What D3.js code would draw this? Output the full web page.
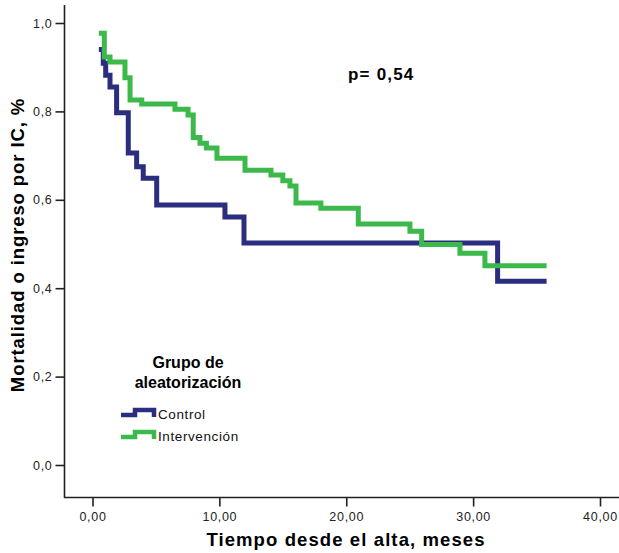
<!DOCTYPE html>
<html>
<head>
<meta charset="utf-8">
<script src="https://cdn.jsdelivr.net/npm/d3@7"></script>
<style>
  body { margin: 0; background: #fff; }
  text { font-family: "Liberation Sans", Arial, sans-serif; }
</style>
</head>
<body>
<div id="chart"></div>
<script>
/* Kaplan-Meier: mortalidad o ingreso por IC */
const controlT = [0.5, 0.85, 1.04, 1.38, 1.9, 2.82, 3.48, 4.0, 5.06, 10.44, 11.94, 31.93, 35.79]
const controlV = [0.94, 0.909, 0.882, 0.855, 0.797, 0.706, 0.675, 0.649, 0.588, 0.561, 0.502, 0.416, 0.416]

const interT = [0.5, 0.93, 1.38, 2.56, 2.96, 3.88, 6.5, 7.53, 7.94, 8.47, 8.98, 9.81, 12.02, 14.07, 15.0, 15.56, 16.04, 18.0, 20.95, 25.02, 25.94, 28.96, 30.93, 35.79]
const interV = [0.977, 0.923, 0.912, 0.876, 0.826, 0.817, 0.805, 0.792, 0.741, 0.728, 0.717, 0.694, 0.667, 0.656, 0.643, 0.631, 0.593, 0.581, 0.545, 0.529, 0.499, 0.479, 0.451, 0.451]

const xTicks = [0, 10, 20, 30, 40]
const yTicks = [0, 0.2, 0.4, 0.6, 0.8, 1.0]
const groups = ["Control", "Intervención"]
const colors = ["#2b2d7e", "#3cb94a"]

const width = 619, height = 553

let svg = d3.select("#chart").append("svg")
    .attr("width", width).attr("height", height)

let x = d3.scaleLinear().domain([0, 40]).range([92.5, 600])
let y = d3.scaleLinear().domain([0, 1]).range([465, 23])

const fmt2 = d => d3.format(".2f")(d).replace(".", ",")
const fmt1 = d => d3.format(".1f")(d).replace(".", ",")

// axes
const xAxis = g => g
    .attr("transform", "translate(0,497.5)")
    .call(d3.axisBottom(x).tickValues(xTicks).tickFormat(fmt2).tickSize(9).tickPadding(6))
    .call(g => g.select(".domain").attr("d", "M64,0H619"))
const yAxis = g => g
    .attr("transform", "translate(64.5,0)")
    .call(d3.axisLeft(y).tickValues(yTicks).tickFormat(fmt1).tickSize(9).tickPadding(3))
    .call(g => g.select(".domain").attr("d", "M0,5V498"))

svg.append("g").call(xAxis)
svg.append("g").call(yAxis)
svg.selectAll(".tick text").attr("font-size", 12.5).attr("letter-spacing", 0.7).attr("fill", "#222")
svg.selectAll(".domain, .tick line").attr("stroke", "#222").attr("stroke-width", 1.6)

// curves
const series = [
    controlT.map((t, i) => [t, controlV[i]]),
    interT.map((t, i) => [t, interV[i]])
]
const line = d3.line().x(d => x(d[0])).y(d => y(d[1])).curve(d3.curveStepAfter)

svg.selectAll(".km")
    .data(series)
    .join("path")
    .attr("class", "km")
    .attr("fill", "none")
    .attr("stroke", (d, i) => colors[i])
    .attr("stroke-width", 5)
    .attr("d", line)

// p value
svg.append("text").attr("x", 348).attr("y", 80)
    .attr("font-size", 17).attr("letter-spacing", 1.2).attr("font-weight", "bold").text("p= 0,54")

// axis titles
svg.append("text").attr("x", 346).attr("y", 546).attr("text-anchor", "middle")
    .attr("font-size", 18.5).attr("letter-spacing", 1.1).attr("font-weight", "bold").text("Tiempo desde el alta, meses")
svg.append("text").attr("transform", "translate(24,245) rotate(-90)").attr("text-anchor", "middle")
    .attr("font-size", 18.5).attr("letter-spacing", 0.9).attr("font-weight", "bold").text("Mortalidad o ingreso por IC, %")

// legend
svg.append("text").attr("x", 188).attr("y", 368).attr("text-anchor", "middle")
    .attr("font-size", 16).attr("font-weight", "bold").text("Grupo de")
svg.append("text").attr("x", 188).attr("y", 388).attr("text-anchor", "middle")
    .attr("font-size", 16).attr("font-weight", "bold").text("aleatorización")

let leg = svg.selectAll(".leg")
    .data(groups)
    .join("g")
    .attr("class", "leg")
    .attr("transform", (d, i) => `translate(121,${415 + i * 22})`)
leg.append("path")
    .attr("fill", "none")
    .attr("stroke", (d, i) => colors[i])
    .attr("stroke-width", 4.5)
    .attr("d", "M0,0H14V-5H33V2")
leg.append("text").attr("x", 37).attr("y", 4)
    .attr("font-size", 13.5).attr("letter-spacing", 0.6).attr("fill", "#111").text(d => d)
</script>
</body>
</html>
